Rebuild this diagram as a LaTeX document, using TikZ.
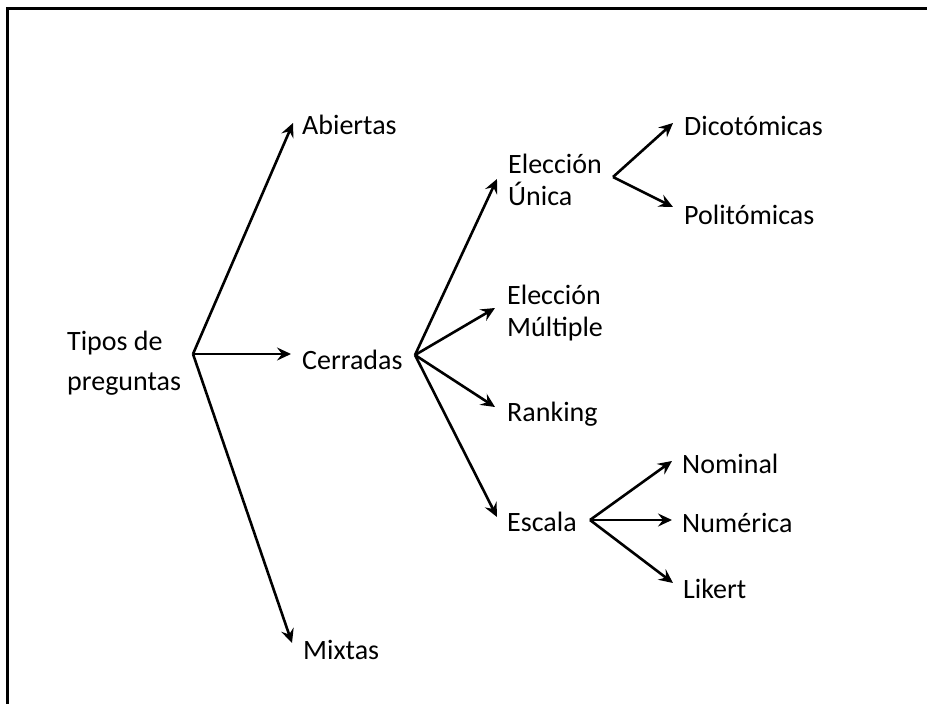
\documentclass[tikz,border=0pt]{standalone}
\usepackage{fontspec}
\setmainfont{Carlito}
\usetikzlibrary{arrows.meta,calc}
\begin{document}
\begin{tikzpicture}[x=1pt,y=-1pt,
  lbl/.style={anchor=west,inner sep=0pt,align=left,font=\fontsize{28}{32}\selectfont},
  arr/.style={line width=2.6pt,-{Stealth[length=14pt,width=13pt,inset=5pt]}}]
\useasboundingbox (0,0) rectangle (927,704);
\fill[white] (0,0) rectangle (927,704);
\draw[line width=3pt] (7,704) -- (7,8) -- (927,8);
% nodes
\node[lbl,font=\fontsize{28}{40}\selectfont] (tp) at (67,363) {Tipos de\\preguntas};
\node[lbl] (ab) at (302,125) {Abiertas};
\node[lbl] (ce) at (302,360) {Cerradas};
\node[lbl] (mx) at (303,650) {Mixtas};
\node[lbl] (eu) at (508,180) {Elección\\Única};
\node[lbl] (em) at (507,313) {Elección\\Múltiple};
\node[lbl] (ra) at (507,414) {Ranking};
\node[lbl] (es) at (507,522) {Escala};
\node[lbl] (di) at (684,126) {Dicotómicas};
\node[lbl] (po) at (684,215) {Politómicas};
\node[lbl] (no) at (682,464) {Nominal};
\node[lbl] (nu) at (682,523) {Numérica};
\node[lbl] (li) at (683,589) {Likert};
% branch points
\coordinate (r) at (193,354);
\coordinate (c) at (415,355);
\coordinate (u) at (613,177);
\coordinate (s) at (590,520);
% connectors
\draw[arr] (r) -- ($(ab.west)+(-9,-2)$);
\draw[arr] (r) -- ($(r -| ce.west)+(-11,0)$);
\draw[arr] (r) -- ($(mx.west)+(-11,-7)$);
\draw[arr] (c) -- ($(eu.west)+(-11,-1)$);
\draw[arr] (c) -- ($(em.west)+(-12,-5)$);
\draw[arr] (c) -- ($(ra.west)+(-12,-7)$);
\draw[arr] (c) -- ($(es.west)+(-10,-5)$);
\draw[arr] (u) -- ($(di.west)+(-11,-3)$);
\draw[arr] (u) -- ($(po.west)+(-11,-8)$);
\draw[arr] (s) -- ($(no.west)+(-10,-3)$);
\draw[arr] (s) -- ($(s -| nu.west)+(-10,0)$);
\draw[arr] (s) -- ($(li.west)+(-10,-6)$);
\end{tikzpicture}
\end{document}
